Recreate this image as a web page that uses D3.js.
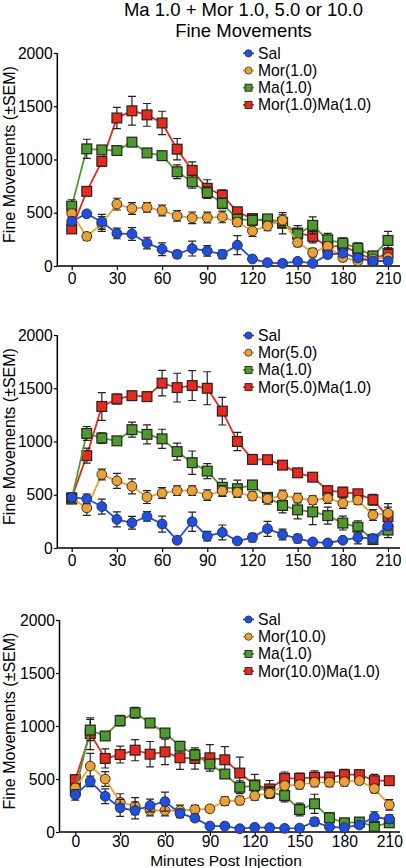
<!DOCTYPE html>
<html><head><meta charset="utf-8">
<script src="https://cdn.jsdelivr.net/npm/d3@7"></script>
<style>body{margin:0;background:#fff}svg{display:block}text{font-family:"Liberation Sans",Arial,sans-serif;fill:#000}</style>
</head><body><svg id="c" width="406" height="868"></svg>
<script>
const times = [0,10,20,30,40,50,60,70,80,90,100,110,120,130,140,150,160,170,180,190,200,210];
const xTicks = [0,30,60,90,120,150,180,210];
const yTicks = [0,500,1000,1500,2000];
const titleLines = ["Ma 1.0 + Mor 1.0, 5.0 or 10.0","Fine Movements"];
const yLabel = "Fine Movements (\u00b1SEM)";
const xLabel = "Minutes Post Injection";

const legend1 = ["Sal","Mor(1.0)","Ma(1.0)","Mor(1.0)Ma(1.0)"];
const sal1 = [420,490,414,306,300,215,158,110,164,142,110,196,66,32,25,44,25,107,120,76,47,47];
const sal1e = [40,20,70,50,60,55,60,35,70,50,40,90,15,10,10,15,10,30,30,25,15,15];
const mor1 = [493,278,395,581,540,550,521,471,452,455,461,411,329,376,430,221,126,186,79,47,66,79];
const mor1e = [40,35,70,55,55,45,50,50,55,50,55,40,50,45,50,40,40,40,30,25,25,30];
const ma1 = [562,1100,1090,1084,1163,1062,1036,885,790,689,588,440,430,442,410,300,382,246,215,167,95,240];
const ma1e = [60,90,30,20,25,20,40,65,60,55,50,45,45,40,50,50,80,60,50,50,30,85];
const combo1 = [348,701,983,1390,1457,1419,1343,1097,898,730,664,509,445,417,401,310,278,177,193,120,63,120];
const combo1e = [30,35,45,100,135,107,110,100,80,80,50,40,30,35,100,70,60,50,60,40,25,50];

const legend2 = ["Sal","Mor(5.0)","Ma(1.0)","Mor(5.0)Ma(1.0)"];
const sal2 = [475,462,389,269,237,297,225,73,247,111,146,66,98,180,127,89,57,47,73,98,89,209];
const sal2e = [40,45,70,70,60,45,75,25,90,45,70,20,40,70,50,40,20,15,25,60,40,40];
const mor2 = [468,377,690,630,579,478,516,538,538,497,535,522,487,462,494,468,449,468,421,449,310,326];
const mor2e = [40,70,50,70,70,60,50,45,45,50,50,45,40,50,50,45,40,50,50,40,50,90];
const ma2 = [459,1076,1032,1006,1111,1067,1025,905,801,722,570,557,592,475,399,358,339,304,234,196,79,168];
const ma2e = [40,65,50,20,70,90,90,80,110,70,80,80,40,40,70,85,120,80,65,60,25,70];
const combo2 = [471,867,1329,1399,1430,1421,1548,1506,1525,1500,1285,1000,832,829,778,706,665,538,525,509,453,294];
const combo2e = [40,70,130,45,40,45,120,135,140,155,130,85,45,30,35,30,30,40,45,40,50,90];

const legend3 = ["Sal","Mor(10.0)","Ma(1.0)","Mor(10.0)Ma(1.0)"];
const sal3 = [350,478,337,228,203,250,287,175,131,56,56,31,44,41,34,37,97,47,41,66,141,122];
const sal3e = [50,50,70,80,80,60,90,40,30,15,15,10,10,10,10,10,40,15,15,20,50,40];
const mor3 = [416,622,500,281,244,203,203,203,212,219,291,297,341,366,438,447,469,469,475,484,409,256];
const mor3e = [40,120,70,80,80,50,50,50,40,30,40,40,40,50,40,40,40,40,40,30,40,50];
const ma3 = [391,962,906,1050,1125,1028,934,809,728,641,547,422,438,375,344,212,266,134,87,94,53,87];
const ma3e = [40,100,30,50,50,40,30,40,50,40,40,60,40,50,60,60,90,50,40,40,20,30];
const combo3 = [494,928,694,731,772,734,756,700,694,700,681,556,444,406,506,506,516,516,541,541,484,484];
const combo3e = [40,150,90,80,100,120,120,110,100,125,125,150,100,80,60,50,60,50,50,30,60,30];

const colors = ["#1d4fe8","#f0a030","#4e9a2a","#e8291c"];
const shapes = ["circle","circle","square","square"];

const svg = d3.select("#c");
svg.append("text").attr("x",243.5).attr("y",16).attr("text-anchor","middle").style("font-size","18.5px").text(titleLines[0]);
svg.append("text").attr("x",243.5).attr("y",37).attr("text-anchor","middle").style("font-size","18.5px").text(titleLines[1]);

const panels = [
  {legend:legend1, series:[[sal1,sal1e],[mor1,mor1e],[ma1,ma1e],[combo1,combo1e]], y0:266, y1:53, ax:57.3, x0:71.7, x1:388, ly:53.3, tb:18, xl:false},
  {legend:legend2, series:[[sal2,sal2e],[mor2,mor2e],[ma2,ma2e],[combo2,combo2e]], y0:548, y1:335, ax:57.3, x0:71.7, x1:388, ly:335.5, tb:18, xl:false},
  {legend:legend3, series:[[sal3,sal3e],[mor3,mor3e],[ma3,ma3e],[combo3,combo3e]], y0:832, y1:620, ax:59.5, x0:75.3, x1:389.3, ly:619.5, tb:15, xl:true}
];

panels.forEach(p=>{
  const x = d3.scaleLinear().domain([0,210]).range([p.x0,p.x1]);
  const y = d3.scaleLinear().domain([0,2000]).range([p.y0,p.y1]);
  const g = svg.append("g");
  // y axis
  const ya = g.append("g").attr("transform",`translate(${p.ax},0)`)
    .call(d3.axisLeft(y).tickValues(yTicks).tickSize(3.5).tickPadding(1).tickFormat(d3.format("d")));
  ya.select(".domain").attr("d",`M0,${p.y1}V${p.y0}`).attr("stroke","#000").attr("stroke-width",1.5);
  ya.selectAll("text").style("font-size","15.7px").attr("font-family",null);
  ya.selectAll("line").attr("stroke-width",1.2);
  // x axis
  const xa = g.append("g").attr("transform",`translate(0,${p.y0})`)
    .call(d3.axisBottom(x).tickValues(xTicks).tickSize(4).tickPadding(3));
  xa.select(".domain").attr("d",`M${p.ax},0H400`).attr("stroke","#000").attr("stroke-width",1.5);
  xa.selectAll("text").style("font-size","15.7px").attr("font-family",null).attr("dy",null).attr("y",p.tb);
  xa.selectAll("line").attr("stroke-width",1.2);
  // y label
  g.append("text").attr("transform",`translate(15,${(p.y0+p.y1)/2-5}) rotate(-90)`).attr("text-anchor","middle").style("font-size","16px").text(yLabel);
  if(p.xl) g.append("text").attr("x",226).attr("y",p.y0+34).attr("text-anchor","middle").style("font-size","15.5px").text(xLabel);

  const order = [3,2,1,0];
  const line = d3.line().x((d,i)=>x(times[i])).y(d=>y(d));
  order.forEach(si=>{
    const [vals,errs] = p.series[si];
    const sg = g.append("g");
    sg.append("path").attr("d",line(vals)).attr("fill","none").attr("stroke",colors[si]).attr("stroke-width",1.8);
    vals.forEach((v,i)=>{
      const cx = x(times[i]);
      const ytop = y(v+errs[i]), ybot = y(Math.max(0,v-errs[i]));
      sg.append("path").attr("d",`M${cx},${ytop}V${ybot}M${cx-4},${ytop}H${cx+4}M${cx-4},${ybot}H${cx+4}`)
        .attr("stroke","#222").attr("stroke-width",1.2).attr("fill","none");
    });
    vals.forEach((v,i)=>{
      const cx = x(times[i]), cy = y(v);
      if(shapes[si]==="circle") sg.append("circle").attr("cx",cx).attr("cy",cy).attr("r",4.9).attr("fill",colors[si]).attr("stroke","#333").attr("stroke-width",1);
      else sg.append("rect").attr("x",cx-4.9).attr("y",cy-4.9).attr("width",9.8).attr("height",9.8).attr("fill",colors[si]).attr("stroke","#222").attr("stroke-width",1.2);
    });
  });
  // legend
  p.legend.forEach((name,i)=>{
    const ly = p.ly + i*17.2;
    const lg = svg.append("g");
    lg.append("line").attr("x1",243).attr("x2",254).attr("y1",ly).attr("y2",ly).attr("stroke",colors[i]).attr("stroke-width",1.8);
    if(shapes[i]==="circle") lg.append("circle").attr("cx",248.5).attr("cy",ly).attr("r",3.6).attr("fill",colors[i]).attr("stroke","#333").attr("stroke-width",0.8);
    else lg.append("rect").attr("x",245).attr("y",ly-3.5).attr("width",7).attr("height",7).attr("fill",colors[i]).attr("stroke","#222").attr("stroke-width",0.9);
    lg.append("text").attr("x",258).attr("y",ly+5.5).style("font-size","15.7px").text(name);
  });
});
</script></body></html>
